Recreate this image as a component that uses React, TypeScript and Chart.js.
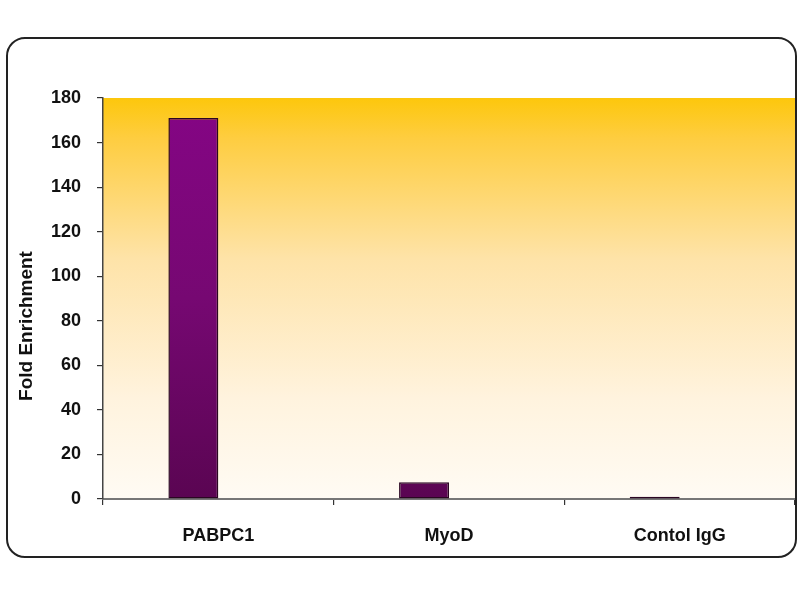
import React, { useEffect, useRef } from "react";
import { Chart, registerables } from "chart.js";

Chart.register(...registerables);

const categories = ["PABPC1", "MyoD", "Contol IgG"];
const foldEnrichment = [171, 7.5, 1];
const emptySeries = [null, null, null];
const yTicks = [0, 20, 40, 60, 80, 100, 120, 140, 160, 180];
const yTitle = "Fold Enrichment";

const FONT = "'Liberation Sans', Arial, sans-serif";

const framePlugin = {
  id: "framePlugin",
  beforeDraw(chart: any) {
    const { ctx, chartArea } = chart;
    ctx.save();
    ctx.fillStyle = "#ffffff";
    ctx.fillRect(0, 0, chart.width, chart.height);
    const g = ctx.createLinearGradient(0, chartArea.top, 0, chartArea.bottom);
    g.addColorStop(0, "#fdc70c");
    g.addColorStop(0.1, "#fecd40");
    g.addColorStop(0.4, "#fee3a8");
    g.addColorStop(0.75, "#fff3de");
    g.addColorStop(1, "#fffbf4");
    ctx.fillStyle = g;
    ctx.fillRect(chartArea.left, chartArea.top, chartArea.right - chartArea.left, chartArea.bottom - chartArea.top);
    ctx.restore();
  },
  afterDraw(chart: any) {
    const { ctx } = chart;
    ctx.save();
    const x = 7, y = 38, w = 789, h = 519, r = 18;
    ctx.beginPath();
    ctx.moveTo(x + r, y);
    ctx.lineTo(x + w - r, y);
    ctx.arcTo(x + w, y, x + w, y + r, r);
    ctx.lineTo(x + w, y + h - r);
    ctx.arcTo(x + w, y + h, x + w - r, y + h, r);
    ctx.lineTo(x + r, y + h);
    ctx.arcTo(x, y + h, x, y + h - r, r);
    ctx.lineTo(x, y + r);
    ctx.arcTo(x, y, x + r, y, r);
    ctx.closePath();
    ctx.lineWidth = 2;
    ctx.strokeStyle = "#222";
    ctx.stroke();
    ctx.translate(27, 326);
    ctx.rotate(-Math.PI / 2);
    ctx.fillStyle = "#111";
    ctx.font = `bold 19px ${FONT}`;
    ctx.textAlign = "center";
    ctx.textBaseline = "middle";
    ctx.fillText(yTitle, 0, 0);
    ctx.restore();
  },
};

export default function App() {
  const ref = useRef<HTMLCanvasElement>(null);
  useEffect(() => {
    const canvas = ref.current!;
    const barColor = (context: any) => {
      const chart = context.chart;
      const area = chart.chartArea;
      if (!area) return "#7a0a78";
      const g = chart.ctx.createLinearGradient(0, area.top, 0, area.bottom);
      g.addColorStop(0, "#850585");
      g.addColorStop(0.5, "#760872");
      g.addColorStop(1, "#5a0552");
      return g;
    };
    const chart = new Chart(canvas, {
      type: "bar",
      data: {
        labels: categories,
        datasets: [
          {
            data: foldEnrichment,
            backgroundColor: barColor,
            borderColor: "#2a0622",
            borderWidth: 1.5,
            borderSkipped: false,
            categoryPercentage: 0.433,
            barPercentage: 1,
          },
          {
            data: emptySeries as any,
            backgroundColor: "transparent",
            categoryPercentage: 0.433,
            barPercentage: 1,
          },
        ],
      },
      options: {
        animation: false,
        responsive: false,
        maintainAspectRatio: false,
        layout: { padding: { top: 98, right: 5, left: 0, bottom: 0 } },
        plugins: { legend: { display: false }, tooltip: { enabled: false } },
        scales: {
          x: {
            afterFit(scale: any) {
              scale.height = 101;
            },
            grid: {
              offset: true,
              drawOnChartArea: false,
              tickLength: 6,
              color: "#333",
              lineWidth: 1.2,
            },
            border: { color: "#777", width: 2 },
            ticks: {
              color: "#111",
              font: { family: FONT, size: 18, weight: "bold" },
              padding: 20,
            },
          },
          y: {
            min: 0,
            max: 180,
            afterFit(scale: any) {
              scale.width = 103;
            },
            afterBuildTicks(scale: any) {
              scale.ticks = yTicks.map((v) => ({ value: v }));
            },
            grid: {
              drawOnChartArea: false,
              tickLength: 6,
              color: "#333",
              lineWidth: 1.2,
            },
            border: { color: "#444", width: 1.5 },
            ticks: {
              color: "#111",
              font: { family: FONT, size: 18, weight: "bold" },
              padding: 16,
            },
          },
        },
      },
      plugins: [framePlugin],
    });
    return () => chart.destroy();
  }, []);
  return (
    <div style={{ position: "fixed", left: 0, top: 0, width: 800, height: 600, background: "#fff" }}>
      <canvas ref={ref} width={800} height={600} style={{ width: 800, height: 600, display: "block" }} />
    </div>
  );
}
